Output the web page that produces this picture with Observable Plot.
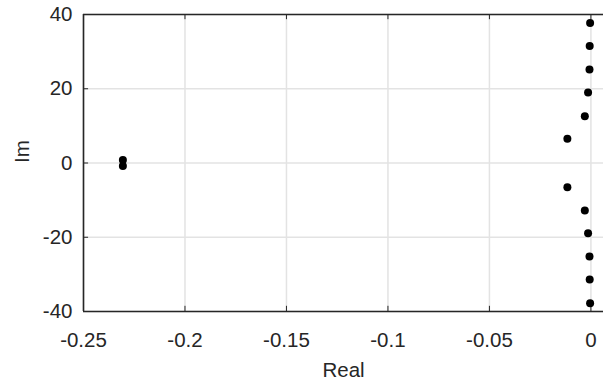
<!DOCTYPE html>
<html><head><meta charset="utf-8">
<script src="https://cdn.jsdelivr.net/npm/d3@7"></script>
<script src="https://cdn.jsdelivr.net/npm/@observablehq/plot@0.6"></script>
<style>body{margin:0;background:#fff}</style>
</head><body><div id="chart"></div>
<script>
const realParts = [-0.2306, -0.2306, -0.0116, -0.0116, -0.0030, -0.0030, -0.0014, -0.0014, -0.0007, -0.0007, -0.0006, -0.0006, -0.0004, -0.0004];
const imagParts = [0.8, -0.8, 6.5, -6.5, 12.6, -12.8, 19.0, -18.9, 25.2, -25.2, 31.5, -31.4, 37.7, -37.8];
const xTicks = [-0.25, -0.2, -0.15, -0.1, -0.05, 0];
const yTicks = [-40, -20, 0, 20, 40];
const xLabel = "Real";
const yLabel = "Im";

const poles = realParts.map((r, i) => ({re: r, im: imagParts[i]}));
const ink = "#262626";
const fmt = d => (d < 0 ? "-" : "") + String(Math.abs(d));
const chart = Plot.plot({
  width: 603, height: 381,
  marginLeft: 83, marginTop: 14, marginBottom: 70, marginRight: 0,
  style: {fontFamily: "'Liberation Sans', Arial, sans-serif", fontSize: "20px", color: ink, background: "#fff"},
  x: {domain: [-0.25, 0.0062]},
  y: {domain: [-40, 40]},
  marks: [
    Plot.gridX(xTicks, {stroke: "#e3e3e3", strokeOpacity: 1, strokeWidth: 1.5}),
    Plot.gridY(yTicks, {stroke: "#e3e3e3", strokeOpacity: 1, strokeWidth: 1.5}),
    Plot.ruleX(xTicks, {y1: -40, y2: -38.6, stroke: ink, strokeWidth: 1}),
    Plot.ruleX(xTicks, {y1: 40, y2: 38.6, stroke: ink, strokeWidth: 1}),
    Plot.ruleY(yTicks, {x1: -0.25, x2: -0.2475, stroke: ink, strokeWidth: 1}),
    Plot.ruleY([-40, 40], {stroke: ink, strokeWidth: 1.6}),
    Plot.ruleX([-0.25], {stroke: ink, strokeWidth: 1.6}),
    Plot.axisX(xTicks, {tickSize: 0, tickPadding: 21, label: null, fill: ink, fontSize: 20.5, tickFormat: fmt}),
    Plot.axisY(yTicks, {tickSize: 0, tickPadding: 11, label: null, fill: ink, fontSize: 20.5, tickFormat: fmt}),
    Plot.dot(poles, {x: "re", y: "im", r: 4, fill: "black", stroke: "none"}),
    Plot.text([xLabel], {frameAnchor: "bottom", dy: 65, text: d => d, fill: ink, fontSize: 20.5}),
    Plot.text([yLabel], {frameAnchor: "left", dx: -61, rotate: -90, text: d => d, fill: ink, fontSize: 20.5})
  ]
});
document.getElementById("chart").appendChild(chart);
</script>
</body></html>
